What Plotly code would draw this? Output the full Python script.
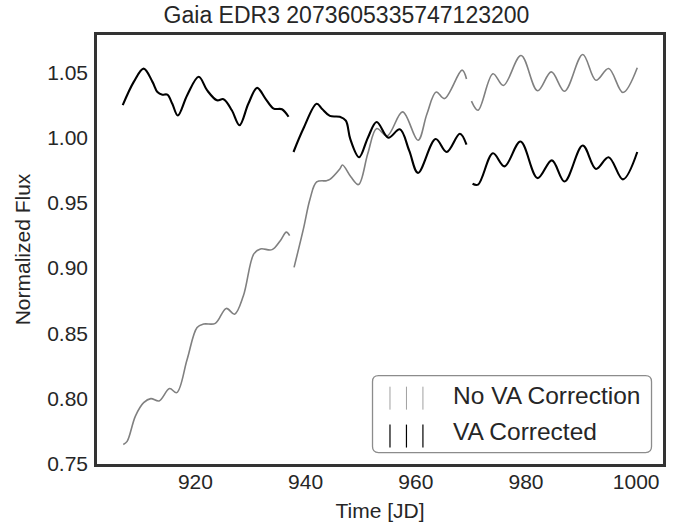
import plotly.graph_objects as go

# ---------------- data ----------------
# No VA Correction (gray), three segments
gray_t1 = [906.9, 907.6, 909.1, 910.6, 911.9, 913.4, 915.3, 916.6, 918.5, 920.3, 921.5,
           923.6, 925.6, 927.1, 928.7, 930.6, 931.8, 933.9, 935.4, 936.5, 937.1]
gray_f1 = [0.7646, 0.767, 0.7864, 0.7967, 0.7998, 0.798, 0.8075, 0.8044, 0.830, 0.8544, 0.857,
           0.8575, 0.869, 0.8646, 0.8787, 0.9108, 0.9146, 0.9141, 0.921, 0.9275, 0.9249]
gray_t2 = [937.9, 939.6, 940.8, 942.0, 943.8, 944.4, 946.2, 946.7, 948.2, 949.6, 951.3, 952.9,
           954.8, 957.6, 960.4, 962.0, 963.7, 965.2, 968.4, 969.2]
gray_f2 = [0.9005, 0.930, 0.953, 0.966, 0.967, 0.968, 0.976, 0.979, 0.970, 0.964, 0.988, 1.007,
           1.0013, 1.0198, 0.998, 1.018, 1.035, 1.030, 1.0518, 1.045]
gray_t3 = [970.1, 971.3, 974.0, 975.9, 979.1, 982.1, 984.6, 987.0, 990.3, 992.7, 995.0, 997.6, 1000.2]
gray_f3 = [1.028, 1.021, 1.049, 1.040, 1.063, 1.036, 1.0505, 1.0356, 1.0638, 1.044, 1.053, 1.0346, 1.0536]

# VA Corrected (black), three segments
black_t1 = [906.8, 908.8, 910.6, 912.2, 913.1, 914.0, 914.9, 915.8, 916.8, 918.5, 920.6, 922.1,
            923.9, 925.1, 926.6, 928.0, 929.6, 931.2, 932.7, 934.2, 935.7, 936.9]
black_f1 = [1.0249, 1.0428, 1.053, 1.0428, 1.035, 1.033, 1.033, 1.026, 1.017, 1.0326, 1.0467, 1.0364,
            1.0287, 1.0295, 1.021, 1.0095, 1.026, 1.0382, 1.030, 1.0223, 1.0218, 1.016]
black_t2 = [937.8, 939.6, 942.0, 943.0, 944.4, 946.2, 947.3, 948.1, 949.7, 951.3, 952.9, 955.0,
            957.1, 958.8, 960.4, 963.6, 965.6, 968.0, 969.2]
black_f2 = [0.989, 1.007, 1.026, 1.022, 1.0167, 1.016, 1.013, 0.999, 0.985, 1.000, 1.012, 1.000,
            1.0064, 0.990, 0.973, 0.999, 0.989, 1.003, 0.9946]
black_t3 = [970.3, 971.3, 974.0, 976.1, 979.0, 982.1, 984.7, 987.0, 990.3, 992.7, 995.0, 997.6, 1000.2]
black_f3 = [0.9646, 0.964, 0.988, 0.978, 0.997, 0.969, 0.9826, 0.9664, 0.994, 0.976, 0.985, 0.968, 0.989]

title_text = "Gaia EDR3 2073605335747123200"
x_label = "Time [JD]"
y_label = "Normalized Flux"
legend_labels = ["No VA Correction", "VA Corrected"]
x_ticks = [920, 940, 960, 980, 1000]
y_ticks = [0.75, 0.80, 0.85, 0.90, 0.95, 1.00, 1.05]


def join(*segs):
    out = []
    for i, s in enumerate(segs):
        if i:
            out.append(None)
        out.extend(s)
    return out


gray_t = join(gray_t1, gray_t2, gray_t3)
gray_f = join(gray_f1, gray_f2, gray_f3)
black_t = join(black_t1, black_t2, black_t3)
black_f = join(black_f1, black_f2, black_f3)

# matplotlib-like 5% autoscale margins
all_t = [v for v in gray_t + black_t if v is not None]
all_f = [v for v in gray_f + black_f if v is not None]
tmin, tmax = min(all_t), max(all_t)
fmin, fmax = min(all_f), max(all_f)
xr = [tmin - 0.05 * (tmax - tmin), tmax + 0.05 * (tmax - tmin)]
yr = [fmin - 0.05 * (fmax - fmin), fmax + 0.05 * (fmax - fmin)]

FONT = "Liberation Sans, Arial, Helvetica, sans-serif"
TXT = "#262626"
GRAY = "#808080"

fig = go.Figure()
fig.add_trace(go.Scatter(x=gray_t, y=gray_f, mode="lines", name=legend_labels[0],
                         line=dict(color=GRAY, width=1.6, shape="spline", smoothing=1.0),
                         connectgaps=False, showlegend=False))
fig.add_trace(go.Scatter(x=black_t, y=black_f, mode="lines", name=legend_labels[1],
                         line=dict(color="black", width=2.1, shape="spline", smoothing=1.0),
                         connectgaps=False, showlegend=False))

# ---------------- manual legend (matplotlib-style box with 3 '|' markers) ----------------
L, R, T, B = 96.5, 663.5, 34.5, 464.5
W, H = R - L, B - T


def px(xp):
    return (xp - L) / W


def py(yp):
    return (B - yp) / H


shapes = []
x0, x1, y0, y1 = px(372.5), px(652), py(453), py(376)
rad = 6
rx, ry = rad / W, rad / H
path = (f"M {x0+rx},{y1} L {x1-rx},{y1} Q {x1},{y1} {x1},{y1-ry} "
        f"L {x1},{y0+ry} Q {x1},{y0} {x1-rx},{y0} L {x0+rx},{y0} "
        f"Q {x0},{y0} {x0},{y0+ry} L {x0},{y1-ry} Q {x0},{y1} {x0+rx},{y1} Z")
shapes.append(dict(type="path", path=path, xref="paper", yref="paper",
                   line=dict(color="#8c8c8c", width=1.3), fillcolor="rgba(255,255,255,0.85)",
                   layer="above"))
for cx in (390, 406.5, 423):
    shapes.append(dict(type="line", xref="paper", yref="paper", x0=px(cx), x1=px(cx),
                       y0=py(387), y1=py(410), line=dict(color="#a0a0a0", width=1), layer="above"))
    shapes.append(dict(type="line", xref="paper", yref="paper", x0=px(cx), x1=px(cx),
                       y0=py(425), y1=py(448), line=dict(color="black", width=1.2), layer="above"))

annotations = [
    dict(text=legend_labels[0], x=px(451), y=py(396), xref="paper", yref="paper",
         xanchor="left", yanchor="middle", showarrow=False,
         font=dict(family=FONT, size=24.5, color=TXT)),
    dict(text=legend_labels[1], x=px(451), y=py(432), xref="paper", yref="paper",
         xanchor="left", yanchor="middle", showarrow=False,
         font=dict(family=FONT, size=24.5, color=TXT)),
]

fig.update_layout(
    width=693, height=529,
    margin=dict(l=L, r=693 - R, t=T, b=529 - B, pad=0, autoexpand=False),
    paper_bgcolor="white", plot_bgcolor="white",
    font=dict(family=FONT, size=21, color=TXT),
    title=dict(text=title_text, x=0.5, xref="container", xanchor="center",
               y=1 - 15 / 529, yref="container", yanchor="middle",
               font=dict(family=FONT, size=23, color=TXT)),
    shapes=shapes, annotations=annotations,
    showlegend=False,
)
fig.update_xaxes(range=xr, tickvals=x_ticks, ticktext=[str(v) for v in x_ticks],
                 showgrid=False, zeroline=False, ticks="", automargin=False,
                 showline=True, mirror=True, linecolor="#333333", linewidth=2.5,
                 tickfont=dict(family=FONT, size=21, color=TXT), ticklabelstandoff=-3,
                 title=dict(text=x_label, font=dict(family=FONT, size=21, color=TXT), standoff=12))
fig.update_yaxes(range=yr, tickvals=y_ticks, ticktext=[f"{v:.2f}" for v in y_ticks],
                 showgrid=False, zeroline=False, ticks="", automargin=False,
                 showline=True, mirror=True, linecolor="#333333", linewidth=2.5,
                 tickfont=dict(family=FONT, size=21, color=TXT), ticklabelstandoff=2,
                 title=dict(text=y_label, font=dict(family=FONT, size=21, color=TXT), standoff=11))

fig.write_html("out.html")
